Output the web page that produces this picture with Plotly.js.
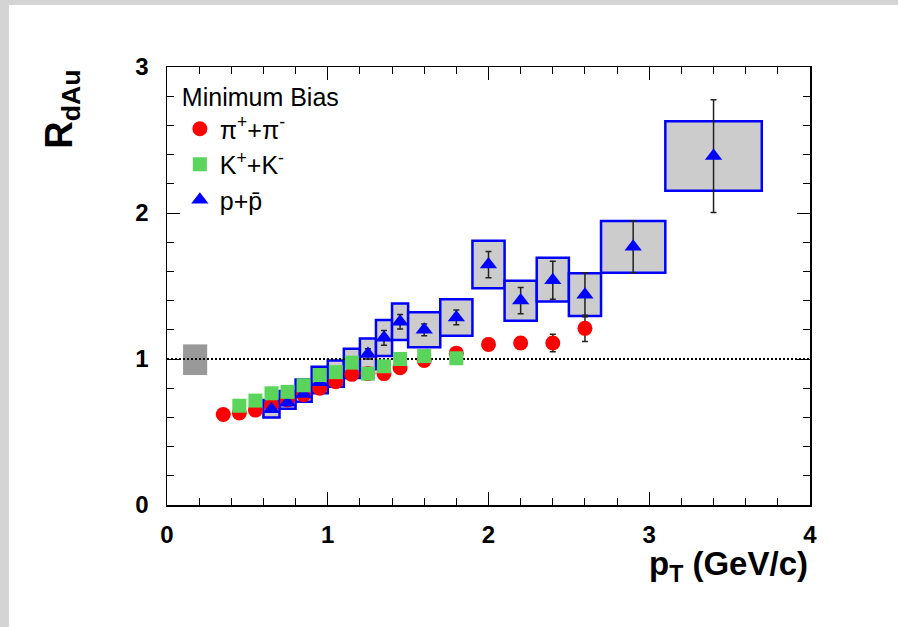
<!DOCTYPE html>
<html>
<head>
<meta charset="utf-8">
<script src="https://cdn.plot.ly/plotly-3.0.1.min.js"></script>
<style>
  html, body { margin: 0; padding: 0; background: #d4d4d4; width: 898px; height: 627px; overflow: hidden; }
  #chart { position: absolute; left: 9px; top: 5px; width: 889px; height: 622px; background: #ffffff; }
</style>
</head>
<body>
<div id="chart"></div>
<script>
// ---- data ----
// pi+ + pi-
const pionPt   = [0.35, 0.45, 0.55, 0.65, 0.75, 0.85, 0.95, 1.05, 1.15, 1.25, 1.35, 1.45, 1.6, 1.8, 2.0, 2.2, 2.4, 2.6];
const pionR    = [0.62, 0.63, 0.65, 0.685, 0.72, 0.755, 0.80, 0.845, 0.895, 0.90, 0.90, 0.94, 0.99, 1.04, 1.10, 1.11, 1.11, 1.21];
const pionErr  = [0.01, 0.01, 0.01, 0.01, 0.01, 0.01, 0.01, 0.01, 0.01, 0.01, 0.01, 0.02, 0.02, 0.03, 0.04, 0.04, 0.06, 0.09];
// K+ + K-
const kaonPt   = [0.45, 0.55, 0.65, 0.75, 0.85, 0.95, 1.05, 1.15, 1.25, 1.35, 1.45, 1.6, 1.8];
const kaonR    = [0.68, 0.715, 0.765, 0.775, 0.82, 0.89, 0.91, 0.975, 0.90, 0.95, 1.00, 1.02, 1.005];
// p + pbar
const protPt   = [0.65, 0.75, 0.85, 0.95, 1.05, 1.15, 1.25, 1.35, 1.45, 1.6, 1.8, 2.0, 2.2, 2.4, 2.6, 2.9, 3.4];
const protR    = [0.655, 0.70, 0.76, 0.84, 0.90, 0.96, 1.035, 1.145, 1.255, 1.20, 1.285, 1.647, 1.40, 1.54, 1.44, 1.768, 2.39];
const protErr  = [0.01, 0.01, 0.01, 0.02, 0.02, 0.02, 0.035, 0.05, 0.05, 0.04, 0.05, 0.09, 0.09, 0.13, 0.15, 0.177, 0.386];
// systematic boxes for p + pbar (bin width, lower and upper edge)
const protBinW = [0.1, 0.1, 0.1, 0.1, 0.1, 0.1, 0.1, 0.1, 0.1, 0.2, 0.2, 0.2, 0.2, 0.2, 0.2, 0.4, 0.6];
const protSysLo = [0.60, 0.66, 0.707, 0.765, 0.81, 0.87, 0.93, 1.02, 1.13, 1.08, 1.16, 1.484, 1.262, 1.393, 1.295, 1.591, 2.153];
const protSysHi = [0.72, 0.78, 0.86, 0.947, 0.99, 1.07, 1.14, 1.267, 1.38, 1.32, 1.41, 1.81, 1.536, 1.694, 1.587, 1.945, 2.628];
// normalization uncertainty box
const normPt = [0.175];
const normW  = [0.15];
const normLo = [0.89];
const normHi = [1.10];
// R = 1 reference line
const unityX = [0, 4];
const unityY = [1, 1];
// labels
const legendTitle = 'Minimum Bias';
const pionName = 'π<sup>+</sup>+π<sup>-</sup>';
const kaonName = 'K<sup>+</sup>+K<sup>-</sup>';
const protName = 'p+p̄';
const xTitle = 'p<sub>T</sub> (GeV/c)';
const yTitle = 'R<sub>dAu</sub>';

const FONT = 'Liberation Sans, Arial, Helvetica, sans-serif';
const ERR = { type: 'data', visible: true, color: '#222222', thickness: 1.5, width: 3 };

const traces = [
  {
    type: 'bar', x: normPt, width: normW, base: normLo,
    y: normHi.map((h, i) => h - normLo[i]),
    marker: { color: '#999999', line: { width: 0 } },
    showlegend: false, hoverinfo: 'skip'
  },
  {
    type: 'bar', x: protPt, width: protBinW, base: protSysLo,
    y: protSysHi.map((h, i) => h - protSysLo[i]),
    marker: { color: '#cccccc', line: { color: '#0000ff', width: 2.5 } },
    showlegend: false, hoverinfo: 'skip'
  },
  {
    type: 'scatter', mode: 'lines', x: unityX, y: unityY,
    line: { color: '#000000', width: 2, dash: '2px,2px' },
    showlegend: false, hoverinfo: 'skip'
  },
  {
    type: 'scatter', mode: 'markers', name: pionName, x: pionPt, y: pionR, legendrank: 1,
    error_y: Object.assign({ array: pionErr }, ERR),
    marker: { symbol: 'circle', size: 15, color: '#ff0000', line: { width: 0 } }
  },
  {
    type: 'scatter', mode: 'markers', name: protName, x: protPt, y: protR, legendrank: 3,
    error_y: Object.assign({ array: protErr }, ERR),
    marker: { symbol: 'triangle-up', size: 15, color: '#0000ff', line: { width: 0 } }
  },
  {
    type: 'scatter', mode: 'markers', name: kaonName, x: kaonPt, y: kaonR, legendrank: 2,
    marker: { symbol: 'square', size: 14, color: '#5ad45a', line: { width: 0 } }
  }
];

const axisCommon = {
  showgrid: false, zeroline: false,
  showline: true, linecolor: '#000000', linewidth: 1.5, mirror: 'allticks',
  ticks: 'inside', ticklen: 13, tickwidth: 1, tickcolor: '#000000',
  tickfont: { family: FONT, size: 24, color: '#000000', weight: 'bold' },
  minor: { ticks: 'inside', ticklen: 7, tickwidth: 1, tickcolor: '#000000', showgrid: false }
};

const layout = {
  width: 889, height: 622,
  margin: { l: 158, r: 88, t: 62, b: 122 },
  paper_bgcolor: '#ffffff', plot_bgcolor: '#ffffff',
  barmode: 'overlay',
  showlegend: true,
  legend: {
    x: 0.02, y: 0.985, xanchor: 'left', yanchor: 'top',
    bgcolor: 'rgba(0,0,0,0)', borderwidth: 0,
    font: { family: FONT, size: 25, color: '#000000' },
    title: { text: legendTitle, font: { family: FONT, size: 25, color: '#000000' } },
    traceorder: 'normal', itemwidth: 30
  },
  xaxis: Object.assign({}, axisCommon, {
    range: [0, 4], dtick: 1, tick0: 0, ticklabelstandoff: 8,
    minor: Object.assign({}, axisCommon.minor, { dtick: 0.2 })
  }),
  yaxis: Object.assign({}, axisCommon, {
    range: [0, 3], dtick: 1, tick0: 0, ticklabelstandoff: 12,
    minor: Object.assign({}, axisCommon.minor, { dtick: 0.2 })
  }),
  annotations: [
    {
      text: yTitle, xref: 'paper', yref: 'paper', x: -0.163, y: 0.903,
      xanchor: 'center', yanchor: 'middle', textangle: -90, showarrow: false,
      font: { family: FONT, size: 38, color: '#000000', weight: 'bold' }
    },
    {
      text: xTitle, xref: 'paper', yref: 'paper', x: 1.0, y: -0.139,
      xanchor: 'right', yanchor: 'middle', showarrow: false,
      font: { family: FONT, size: 33, color: '#000000', weight: 'bold' }
    }
  ]
};

Plotly.newPlot('chart', traces, layout, { staticPlot: true, displayModeBar: false });
</script>
</body>
</html>
